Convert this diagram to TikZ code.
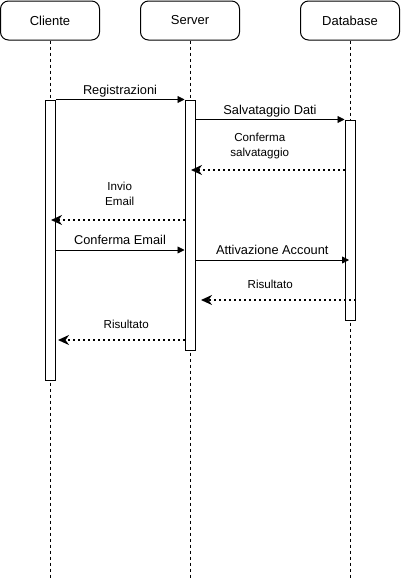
\documentclass[tikz,border=0pt]{standalone}
\usepackage{fontspec}
\setmainfont{Liberation Sans}
\usetikzlibrary{arrows.meta}

\tikzset{
  head/.style={draw,line width=1pt,rounded corners=8pt,minimum width=99pt,minimum height=39pt,font=\fontsize{13}{15}\selectfont},
  life/.style={line width=0.8pt,dash pattern=on 3pt off 3pt},
  act/.style={draw,fill=white,line width=1pt,minimum width=10pt,inner sep=0pt},
  msg/.style={line width=0.8pt,-{Triangle[length=7pt,width=7pt]}},
  ret/.style={line width=1.6pt,dash pattern=on 1.6pt off 3.4pt,-{Stealth[length=11pt,width=10pt,inset=3.5pt]}},
  lbl/.style={font=\fontsize{12.8}{15}\selectfont,inner sep=0pt,text depth=0pt},
  sml/.style={font=\fontsize{11.6}{15}\selectfont,inner sep=0pt,text depth=0pt,align=center}
}

\begin{document}
\begin{tikzpicture} [x=1pt,y=-1pt]

\useasboundingbox (0,0) rectangle (402,582);

\node[head] (cli) at (50,20.5) {Cliente};
\node[head] (srv) at (190,20.5) {Server};
\node[head] (db) at (350,20.5) {Database};

\coordinate (cliEnd) at (50,578);
\coordinate (srvEnd) at (190,578);
\coordinate (dbEnd) at (350,578);

\draw[life] (cli) -- (cliEnd);
\draw[life] (srv) -- (srvEnd);
\draw[life] (db) -- (dbEnd);

\node[act,minimum height=280pt] (aC) at (50,240) {};
\node[act,minimum height=250pt] (aS) at (190,225) {};
\node[act,minimum height=200pt] (aD) at (350,220) {};

\coordinate (cs) at (191,170);
\coordinate (ie) at (51,220);
\coordinate (ce) at (0,250);
\coordinate (aa) at (349,260);
\coordinate (rd) at (201,300);
\coordinate (rc) at (58,340);

\draw[msg] (aC.north east) -- (aS.north west) node [lbl,above=5pt,midway] {Registrazioni};
\draw[msg] (aS.east |- aD.north) -- (aD.north west) node [lbl,above=5pt,midway] {Salvataggio Dati};
\draw[ret] (aD.west |- cs) -- (cs) node [sml,above=13pt,midway,xshift=-8pt] {Conferma\\salvataggio};
\draw[ret] (aS.west |- ie) -- (ie) node [sml,above=14pt,midway,xshift=2pt] {Invio\\Email};
\draw[msg] (aC.east |- ce) -- (aS.west |- ce) node [lbl,above=5pt,midway] {Conferma Email};
\draw[msg] (aS.east |- aa) -- (aa) node [lbl,above=5pt,midway] {Attivazione Account};
\draw[ret] (aD.east |- rd) -- (rd) node [sml,above=11pt,midway,xshift=-8pt] {Risultato};
\draw[ret] (aS.west |- rc) -- (rc) node [sml,above=11pt,midway,xshift=5pt] {Risultato};

\end{tikzpicture}
\end{document}
